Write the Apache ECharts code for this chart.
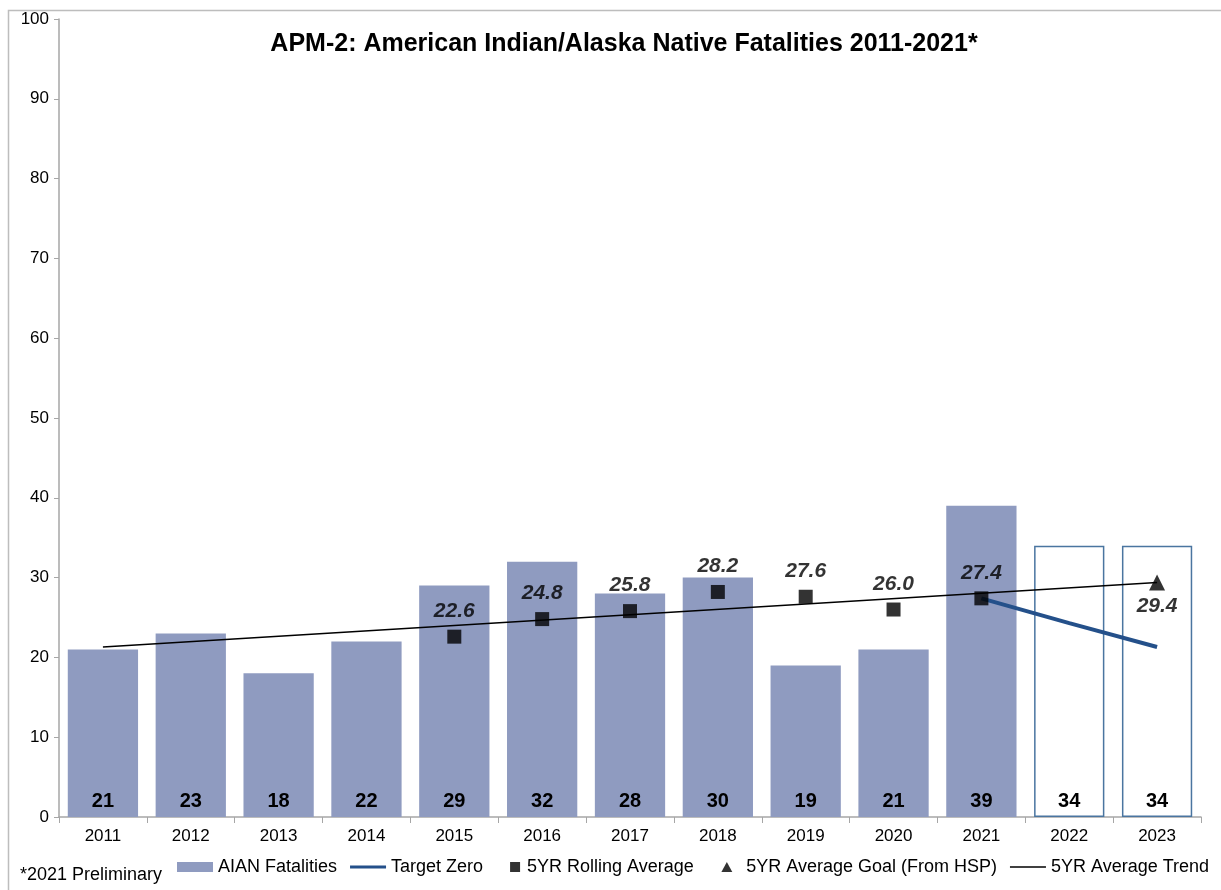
<!DOCTYPE html>
<html>
<head>
<meta charset="utf-8">
<title>APM-2 AIAN Fatalities</title>
<script src="https://cdn.jsdelivr.net/npm/echarts@6/dist/echarts.min.js"></script>
<style>
  html, body { margin: 0; padding: 0; background: #fff; }
  #chart { width: 1221px; height: 890px; }
</style>
</head>
<body>
<div id="chart"></div>
<script>
const years = ['2011', '2012', '2013', '2014', '2015', '2016', '2017', '2018', '2019', '2020', '2021', '2022', '2023']
const fatalities = [21, 23, 18, 22, 29, 32, 28, 30, 19, 21, 39, null, null]
const projected = [null, null, null, null, null, null, null, null, null, null, null, 34, 34]
const rollingAvg = [null, null, null, null, 22.6, 24.8, 25.8, 28.2, 27.6, 26.0, 27.4, null, null]
const targetZero = [null, null, null, null, null, null, null, null, null, null, 27.4, 24.3, 21.3]
const avgGoal = [null, null, null, null, null, null, null, null, null, null, null, null, 29.4]
const avgTrend = [21.3, null, null, null, null, null, null, null, null, null, null, null, 29.4]
const yTicks = [0, 10, 20, 30, 40, 50, 60, 70, 80, 90, 100]

const font = '"Liberation Sans", Arial, sans-serif'
const chart = echarts.init(document.getElementById('chart'))

const barLabel = {
  show: true,
  position: 'insideBottom',
  distance: 6,
  color: '#000',
  fontSize: 20,
  fontWeight: 'bold',
  fontFamily: font
}

const avgLabel = {
  show: true,
  formatter: p => p.value.toFixed(1),
  color: '#000',
  fontSize: 21,
  fontWeight: 'bold',
  fontStyle: 'italic',
  fontFamily: font
}

// legend icons, all in a 36x10 box so the shapes keep their size
const lineIcon = 'path://M0,0 M36,10 M0,3.5 H36 V6.5 H0 Z'
const thinLineIcon = 'path://M0,0 M36,10 M0,4.25 H36 V5.75 H0 Z'
const squareIcon = 'path://M0,0 M36,10 M14,0 H24 V10 H14 Z'
const triangleIcon = 'path://M0,0 M36,10 M16,10 L22,-1 L28,10 Z'

const option = {
  backgroundColor: '#fff',
  animation: false,
  textStyle: { fontFamily: font },
  title: {
    text: 'APM-2: American Indian/Alaska Native Fatalities 2011-2021*',
    left: 619,
    textAlign: 'center',
    top: 27,
    textStyle: { fontSize: 25, fontWeight: 'bold', color: '#000', fontFamily: font }
  },
  graphic: [
    {
      type: 'polyline',
      shape: { points: [[8.5, 890], [8.5, 10.5], [1221, 10.5]] },
      style: { stroke: '#bdbdbd', lineWidth: 1.5, fill: null },
      silent: true
    },
    {
      type: 'text',
      left: 20,
      top: 866,
      style: { text: '*2021 Preliminary', fontSize: 18, fill: '#000', fontFamily: font }
    }
  ],
  legend: {
    left: 177,
    top: 858,
    width: 1100,
    padding: 0,
    itemGap: 13,
    itemWidth: 36,
    itemHeight: 10,
    itemStyle: { borderWidth: 0 },
    textStyle: { fontSize: 18, color: '#000', fontFamily: font },
    data: [
      { name: 'AIAN Fatalities', icon: 'rect' },
      { name: 'Target Zero', icon: lineIcon },
      { name: '5YR Rolling Average', icon: squareIcon, textStyle: { padding: [0, 0, 0, -10] } },
      { name: '5YR Average Goal (From HSP)', icon: triangleIcon },
      { name: '5YR Average Trend', icon: thinLineIcon }
    ]
  },
  grid: { left: 59, right: 20, top: 19, bottom: 73 },
  xAxis: {
    type: 'category',
    data: years,
    axisLine: { lineStyle: { color: '#a6a6a6', width: 1.5 } },
    axisTick: { show: true, length: 6, lineStyle: { color: '#a6a6a6' } },
    axisLabel: { color: '#000', fontSize: 17, margin: 11, fontFamily: font }
  },
  yAxis: {
    type: 'value',
    min: yTicks[0],
    max: yTicks[yTicks.length - 1],
    interval: 10,
    axisLine: { show: true, lineStyle: { color: '#a6a6a6', width: 1.5 } },
    axisTick: { show: true, length: 5, lineStyle: { color: '#a6a6a6' } },
    splitLine: { show: false },
    axisLabel: { color: '#000', fontSize: 17, margin: 10, fontFamily: font }
  },
  series: [
    {
      name: 'AIAN Fatalities',
      type: 'bar',
      data: fatalities,
      barCategoryGap: '20%',
      itemStyle: { color: '#8f9bc0' },
      label: barLabel,
      z: 2
    },
    {
      name: 'Projected',
      type: 'bar',
      data: projected,
      barGap: '-100%',
      itemStyle: { color: '#fff', borderColor: '#4a75a0', borderWidth: 1.5 },
      label: barLabel,
      z: 2
    },
    {
      name: '5YR Average Trend',
      type: 'line',
      data: avgTrend,
      connectNulls: true,
      symbol: 'none',
      lineStyle: { color: '#000', width: 1.5 },
      itemStyle: { color: '#000' },
      z: 3
    },
    {
      name: 'Target Zero',
      type: 'line',
      data: targetZero,
      symbol: 'none',
      lineStyle: { color: '#24508a', width: 4 },
      itemStyle: { color: '#24508a' },
      z: 4
    },
    {
      name: '5YR Rolling Average',
      type: 'scatter',
      data: rollingAvg,
      symbol: 'rect',
      symbolSize: 14,
      itemStyle: { color: '#000' },
      label: Object.assign({ position: 'top', distance: 8 }, avgLabel),
      z: 5
    },
    {
      name: '5YR Average Goal (From HSP)',
      type: 'scatter',
      data: avgGoal,
      symbol: 'triangle',
      symbolSize: 16,
      itemStyle: { color: '#000' },
      label: Object.assign({ position: 'bottom', distance: 5 }, avgLabel),
      z: 5
    }
  ]
}

chart.setOption(option)
</script>
</body>
</html>
